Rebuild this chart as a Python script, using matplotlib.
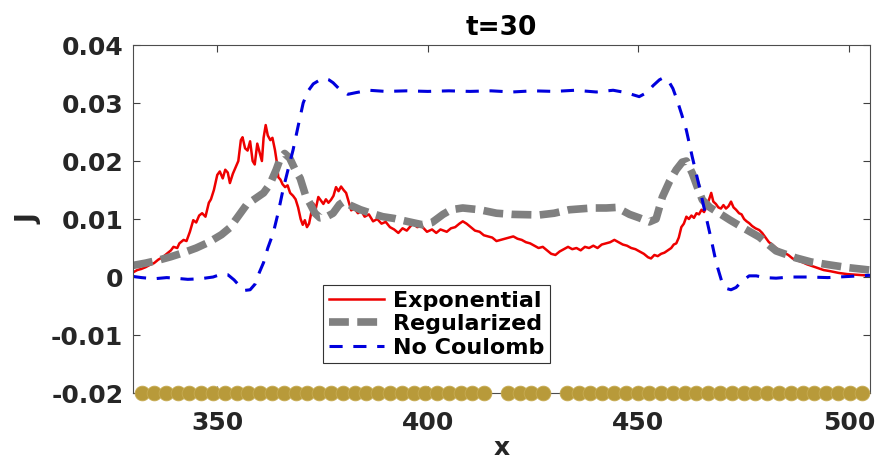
import numpy as np
import matplotlib
matplotlib.use('Agg')
import matplotlib.pyplot as plt

# Exponential (noisy red curve)
x_exp = [330.0, 331.0, 332.0, 333.0, 334.0, 335.0, 336.0, 337.0, 338.0, 339.0, 339.6, 340.5, 341.0, 342.0,
         342.7, 343.5, 344.3, 345.0, 345.7, 346.4, 347.2, 348.0, 348.5, 349.2, 350.0, 350.6, 351.3, 351.9,
         352.5, 353.0, 353.7, 354.4, 355.0, 355.6, 356.0, 356.6, 357.2, 357.8, 358.4, 358.9, 359.5, 360.1,
         360.6, 361.0, 361.5, 362.0, 362.6, 363.1, 363.7, 364.1, 364.5, 365.0, 365.5, 366.1, 366.7, 367.3,
         368.0, 368.6, 369.2, 369.8, 370.3, 370.8, 371.3, 371.8, 372.3, 372.8, 373.4, 374.0, 374.6, 375.2,
         375.8, 376.4, 377.0, 377.6, 378.2, 378.8, 379.4, 380.0, 380.6, 381.2, 381.8, 382.6, 383.4, 384.2,
         385.0, 386.0, 387.0, 388.0, 389.0, 390.0, 391.0, 392.0, 393.0, 394.0, 395.0, 396.4, 397.5, 398.5,
         399.8, 401.0, 402.0, 403.0, 404.5, 405.5, 406.5, 407.5, 408.3, 409.2, 410.2, 411.2, 412.3, 413.3,
         414.3, 415.3, 416.3, 417.3, 418.3, 419.3, 420.3, 421.3, 422.3, 423.3, 424.3, 425.3, 426.3, 427.3,
         428.3, 429.3, 430.3, 431.3, 432.3, 433.3, 434.3, 435.3, 436.3, 437.3, 438.3, 439.3, 440.3, 441.3,
         442.3, 443.3, 444.3, 445.3, 446.3, 447.3, 448.3, 449.3, 450.3, 451.3, 452.3, 453.0, 453.8, 454.6,
         455.4, 456.2, 457.0, 457.8, 458.4, 459.0, 459.6, 460.2, 460.8, 461.4, 462.0, 462.6, 463.2, 463.8,
         464.4, 465.0, 465.6, 466.2, 466.8, 467.3, 467.8, 468.4, 469.0, 469.6, 470.2, 470.8, 471.4, 472.0,
         472.6, 473.2, 473.9, 474.5, 475.1, 475.7, 476.3, 477.0, 477.8, 478.7, 479.4, 480.2, 481.0, 481.8,
         482.7, 483.6, 484.6, 485.6, 486.6, 487.6, 488.8, 490.0, 491.2, 492.4, 494.0, 495.6, 497.6, 499.6,
         501.6, 503.6, 505.0]
j_exp = [0.0008, 0.0012, 0.0014, 0.0017, 0.0021, 0.0024, 0.0030, 0.0034, 0.0040, 0.0046, 0.0052, 0.0050, 0.0058, 0.0064,
         0.0062, 0.0078, 0.0098, 0.0094, 0.0106, 0.0110, 0.0104, 0.0128, 0.0134, 0.0150, 0.0176, 0.0182, 0.0170, 0.0185,
         0.0180, 0.0162, 0.0178, 0.0190, 0.0200, 0.0236, 0.0241, 0.0222, 0.0218, 0.0234, 0.0200, 0.0194, 0.0230, 0.0214,
         0.0200, 0.0240, 0.0262, 0.0244, 0.0236, 0.0240, 0.0219, 0.0200, 0.0172, 0.0168, 0.0160, 0.0155, 0.0158, 0.0145,
         0.0140, 0.0134, 0.0120, 0.0100, 0.0090, 0.0098, 0.0086, 0.0092, 0.0110, 0.0127, 0.0118, 0.0138, 0.0132, 0.0126,
         0.0134, 0.0128, 0.0133, 0.0140, 0.0155, 0.0148, 0.0156, 0.0150, 0.0145, 0.0130, 0.0115, 0.0118, 0.0110, 0.0114,
         0.0104, 0.0108, 0.0096, 0.0100, 0.0092, 0.0095, 0.0086, 0.0082, 0.0076, 0.0084, 0.0080, 0.0092, 0.0086, 0.0088,
         0.0078, 0.0082, 0.0076, 0.0082, 0.0078, 0.0084, 0.0086, 0.0092, 0.0096, 0.0092, 0.0086, 0.0080, 0.0078, 0.0072,
         0.0070, 0.0068, 0.0062, 0.0064, 0.0066, 0.0068, 0.0070, 0.0066, 0.0064, 0.0060, 0.0058, 0.0054, 0.0050, 0.0052,
         0.0046, 0.0040, 0.0038, 0.0044, 0.0048, 0.0052, 0.0048, 0.0050, 0.0046, 0.0052, 0.0050, 0.0054, 0.0050, 0.0056,
         0.0058, 0.0060, 0.0064, 0.0060, 0.0056, 0.0054, 0.0050, 0.0048, 0.0044, 0.0040, 0.0034, 0.0032, 0.0038, 0.0036,
         0.0040, 0.0042, 0.0046, 0.0050, 0.0056, 0.0058, 0.0068, 0.0086, 0.0092, 0.0104, 0.0100, 0.0106, 0.0102, 0.0110,
         0.0108, 0.0116, 0.0112, 0.0122, 0.0134, 0.0145, 0.0130, 0.0126, 0.0120, 0.0118, 0.0124, 0.0118, 0.0122, 0.0130,
         0.0120, 0.0116, 0.0110, 0.0108, 0.0100, 0.0096, 0.0093, 0.0088, 0.0084, 0.0081, 0.0076, 0.0068, 0.0060, 0.0056,
         0.0050, 0.0046, 0.0042, 0.0038, 0.0032, 0.0029, 0.0026, 0.0022, 0.0019, 0.0016, 0.0012, 0.0010, 0.0007, 0.0005,
         0.0004, 0.0003, 0.0003]

# Regularized (smooth gray curve)
x_reg = [330, 333, 336, 339, 342, 345, 348, 351, 353, 355, 357, 359, 361, 362.5, 364, 365, 366, 367.2, 368.5,
         369.7, 371, 372, 373.2, 374.4, 376, 377.5, 379, 380, 381.5, 384, 386.5, 389.3, 392, 395, 398.8, 401,
         403.6, 405.5, 408.3, 412.3, 416.3, 420, 426.5, 430, 433.6, 439, 442.4, 444.8, 447.9, 450.2, 452.6,
         454.2, 455.7, 457.4, 459, 460.4, 461.4, 462.8, 464, 465.2, 467, 469.2, 471.8, 474.6, 478.7, 482.7,
         487.4, 491, 495.3, 500, 505]
j_reg = [0.0020, 0.0024, 0.0029, 0.0035, 0.0042, 0.0050, 0.0060, 0.0073, 0.0085, 0.0105, 0.0125, 0.0135, 0.0145,
         0.0160, 0.0185, 0.0205, 0.0213, 0.0205, 0.0185, 0.0170, 0.0140, 0.0127, 0.0110, 0.0102, 0.0104, 0.0110,
         0.0125, 0.0130, 0.0124, 0.0116, 0.0110, 0.0104, 0.0101, 0.0096, 0.0090, 0.0094, 0.0108, 0.0116, 0.0119,
         0.0116, 0.0110, 0.0108, 0.0107, 0.0110, 0.0116, 0.0119, 0.0119, 0.0120, 0.0108, 0.0102, 0.0095, 0.0100,
         0.0138, 0.0165, 0.0185, 0.0198, 0.0200, 0.0179, 0.0155, 0.0133, 0.0120, 0.0110, 0.0098, 0.0086, 0.0069,
         0.0045, 0.0033, 0.0026, 0.0021, 0.0016, 0.0012]

# No Coulomb (blue curve)
x_noc = [330, 332, 335, 338, 340, 343, 346, 349, 351, 352.5, 354, 355.5, 356.6, 357.8, 359, 360, 361, 362, 363.3,
         364.5, 365.6, 366.8, 368, 369.2, 370.4, 371.5, 372.8, 374.4, 375.5, 376.5, 377.5, 379, 381, 383, 386,
         390, 395, 400, 405, 410, 415, 420, 425, 430, 435, 440, 444, 447, 450.2, 452, 453.5, 455, 455.8, 457,
         458.2, 459.2, 460.3, 461.4, 462.8, 464.5, 466.1, 467.2, 468.5, 469.9, 471, 472, 473.2, 474.5, 476.3,
         478, 480, 482.7, 486, 490.5, 495, 500, 505]
j_noc = [0.0001, -0.0001, -0.0003, -0.0001, -0.0002, -0.0004, -0.0003, 0.0000, 0.0005, 0.0004, -0.0005, -0.0017,
         -0.0023, -0.0022, -0.0012, 0.0008, 0.0025, 0.0050, 0.0076, 0.0112, 0.0150, 0.0185, 0.0219, 0.0260, 0.0300,
         0.0320, 0.0333, 0.0340, 0.0342, 0.0340, 0.0335, 0.0324, 0.0315, 0.0318, 0.0322, 0.0320, 0.0321, 0.0320,
         0.0321, 0.0320, 0.0321, 0.0319, 0.0321, 0.0320, 0.0322, 0.0319, 0.0322, 0.0318, 0.0311, 0.0318, 0.0330,
         0.0340, 0.0343, 0.0340, 0.0325, 0.0305, 0.0280, 0.0253, 0.0207, 0.0155, 0.0103, 0.0068, 0.0024, -0.0010,
         -0.0020, -0.0022, -0.0018, -0.0008, 0.0002, 0.0002, -0.0001, -0.0002, 0.0000, 0.0000, -0.0001, 0.0001, 0.0003]

# ion positions drawn along the bottom axis (two sites empty)
x_ions = [332.2, 335.0, 337.8, 340.6, 343.4, 346.2, 349.0, 351.8, 354.6, 357.4, 360.2, 363.0, 365.8, 368.6,
          371.4, 374.2, 377.0, 379.8, 382.6, 385.4, 388.2, 391.0, 393.8, 396.6, 399.4, 402.2, 405.0, 407.8,
          410.6, 413.4, 419.0, 421.8, 424.6, 427.4, 433.0, 435.8, 438.6, 441.4, 444.2, 447.0, 449.8, 452.6,
          455.4, 458.2, 461.0, 463.8, 466.6, 469.4, 472.2, 475.0, 477.8, 480.6, 483.4, 486.2, 489.0, 491.8,
          494.6, 497.4, 500.2, 503.0]
y_ions = -0.02

xticks = [350, 400, 450, 500]
yticks = [-0.02, -0.01, 0, 0.01, 0.02, 0.03, 0.04]
yticklabels = ['-0.02', '-0.01', '0', '0.01', '0.02', '0.03', '0.04']

plt.rcParams['font.family'] = 'DejaVu Sans'
plt.rcParams['font.weight'] = 'bold'

fig = plt.figure(figsize=(8.77, 4.65), dpi=100)
ax = fig.add_axes([0.1517, 0.1548, 0.8403, 0.7484])

ax.plot(x_exp, j_exp, color='#ee0000', linewidth=1.8, label='Exponential')
ax.plot(x_reg, j_reg, color='#808080', linewidth=5.5, dashes=(2.6, 1.1), label='Regularized')
ax.plot(x_noc, j_noc, color='#0000dd', linewidth=2.2, dashes=(4.3, 3.5), label='No Coulomb')
ax.plot(x_ions, [y_ions] * len(x_ions), linestyle='none', marker='o', markersize=10.6,
        markeredgewidth=0.6, markeredgecolor='#c7ab52', color='#b89a3a', clip_on=False, zorder=5)

ax.set_xlim(330, 505)
ax.set_ylim(-0.02, 0.04)
ax.set_xticks(xticks)
ax.set_yticks(yticks)
ax.set_yticklabels(yticklabels)
ax.tick_params(direction='in', length=5, width=0.8, colors='#404040', top=True, right=True,
               labelsize=18, labelcolor='#262626')
ax.tick_params(axis='x', pad=13)
ax.tick_params(axis='y', pad=7)
for lab in ax.get_xticklabels() + ax.get_yticklabels():
    lab.set_fontweight('bold')
for sp in ax.spines.values():
    sp.set_color('#4d4d4d')
    sp.set_linewidth(0.8)

ax.set_xlabel('x', fontsize=18, fontweight='bold', color='#262626', labelpad=1)
ax.set_ylabel('J', fontsize=19, fontweight='bold', color='#262626', labelpad=6)
ax.set_title('t=30', fontsize=19, fontweight='bold', pad=7)

leg = ax.legend(loc='lower left', bbox_to_anchor=(0.258, 0.086), fontsize=16, frameon=True,
                fancybox=False, edgecolor='#333333', framealpha=1, handlelength=2.5,
                handletextpad=0.4, labelspacing=0.15, borderpad=0.25, borderaxespad=0,
                prop={'weight': 'bold', 'size': 16})
leg.get_frame().set_linewidth(0.8)

fig.savefig('out.png', dpi=100)
